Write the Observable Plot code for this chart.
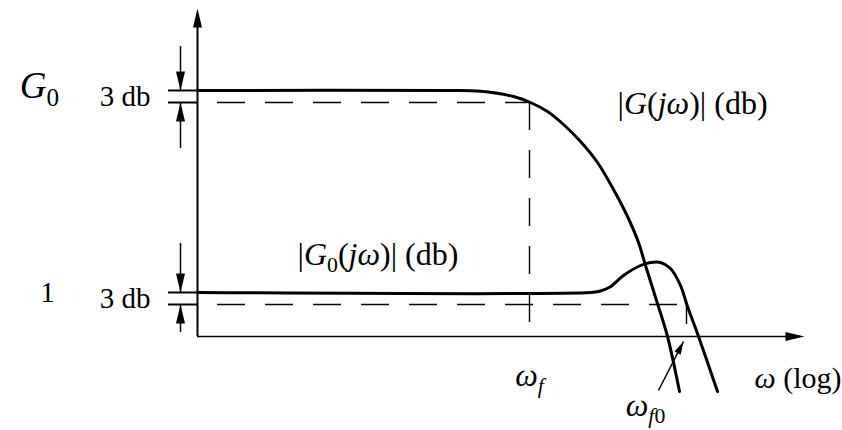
<!DOCTYPE html>
<html><head><meta charset="utf-8">
<script src="https://cdn.jsdelivr.net/npm/d3@7"></script>
<script src="https://cdn.jsdelivr.net/npm/@observablehq/plot@0.6"></script>
<style>
html,body{margin:0;padding:0;background:#fff;}
#chart svg{display:block;}
#chart svg text, #chart svg tspan{font-family:"Liberation Serif","Times New Roman",serif;}
</style></head><body><div id="chart"></div>
<script>
// ---- data (x = log frequency, decades from the ordinate; y = magnitude in db) ----
const gFreq  = [0, 2.5, 2.83, 3.16, 3.33, 3.50, 3.66, 3.83, 4.00, 4.16, 4.30, 4.41, 4.48, 4.59, 4.70, 4.82];
const gDb    = [61.5, 61.5, 61.3, 60.0, 58.5, 56.25, 53.0, 48.75, 43.5, 36.75, 30.0, 23.5, 17.75, 9.0, 0, -13.75];
const g0Freq = [0, 3.93, 4.02, 4.12, 4.26, 4.43, 4.53, 4.63, 4.73, 4.83, 4.90, 5.01, 5.20];
const g0Db   = [11, 11, 11.3, 12.3, 15.25, 17.75, 18.5, 18.5, 17, 12.75, 7.5, 0, -13.75];

const levelDb     = [61.5, 11];                 // G0 and 1 levels
const levelLabels = ["<i>G</i><sub>0</sub>", "1"];
const bandDb      = 3;
const bandLabel   = "3 db";
const cornerFreq   = [3.32, 4.89];              // omega_f, omega_f0
const cornerLabels = ["<i>ω</i><sub><i>f</i></sub>", "<i>ω</i><sub><i>f</i>0</sub>"];
const curveLabels  = ["|<i>G</i>(<i>jω</i>)| (db)", "|<i>G</i><sub>0</sub>(<i>jω</i>)| (db)"];
const axisLabel    = "<i>ω</i> (log)";

// ---- derived tables ----
const gData  = gFreq.map((f, i) => ({f, db: gDb[i]}));
const g0Data = g0Freq.map((f, i) => ({f, db: g0Db[i]}));
const bandEdges = levelDb.flatMap(db => [db, db - bandDb]);
const wf = cornerFreq[0], wf0 = cornerFreq[1];

const arrowX = -0.17;
const shafts = [
  {y1: levelDb[0] + 11, y2: levelDb[0]},
  {y1: levelDb[0] - bandDb - 11.5, y2: levelDb[0] - bandDb},
  {y1: levelDb[1] + 12.25, y2: levelDb[1]},
  {y1: 1, y2: levelDb[1] - bandDb}
];
const heads = [
  {x: arrowX, y: levelDb[0], rot: 180},
  {x: arrowX, y: levelDb[0] - bandDb, rot: 0},
  {x: arrowX, y: levelDb[1], rot: 180},
  {x: arrowX, y: levelDb[1] - bandDb, rot: 0},
  {x: 0, y: 82, rot: 0},
  {x: 6.07, y: 0, rot: 90}
];
const pointer = {x1: wf0 - 0.28, y1: -13.5, x2: wf0 - 0.03, y2: -1.25};

const headSym  = {draw(ctx) { ctx.moveTo(0, 0); ctx.lineTo(4.5, 19); ctx.lineTo(-4.5, 19); ctx.closePath(); }};
const smallSym = {draw(ctx) { ctx.moveTo(0, 0); ctx.lineTo(3.5, 13); ctx.lineTo(-3.5, 13); ctx.closePath(); }};

const dash = {strokeWidth: 1.4, strokeDasharray: "28,20"};
const serif = '"Liberation Serif", "Times New Roman", serif';
const txt = (data, opts) => Plot.text(data, {text: d => d, fontFamily: serif, ...opts});

const chart = Plot.plot({
  width: 842, height: 430, margin: 0,
  x: {domain: [-1.97, 6.45], axis: null},
  y: {domain: [-23.5, 84], axis: null},
  style: {fontFamily: serif, background: "white", color: "black"},
  marks: [
    // axes
    Plot.ruleX([0], {y1: 0, y2: 79, strokeWidth: 2}),
    Plot.ruleY([0], {x1: 0, x2: 6.0, strokeWidth: 1.5}),
    // level ticks left of ordinate
    Plot.ruleY(bandEdges, {x1: -0.29, x2: 0, strokeWidth: 2}),
    // dashed 3 db lines
    Plot.ruleY([levelDb[0] - bandDb], {x1: 0, x2: wf, ...dash, strokeDashoffset: 28}),
    Plot.ruleY([levelDb[1] - bandDb], {x1: 0, x2: wf0, ...dash, strokeDashoffset: 28}),
    Plot.ruleX([wf], {y1: levelDb[0] - bandDb, y2: 1.5, ...dash}),
    Plot.ruleX([wf0], {y1: levelDb[1] - bandDb, y2: 3, ...dash}),
    // curves
    Plot.line(gData, {x: "f", y: "db", curve: "catmull-rom", strokeWidth: 3}),
    Plot.line(g0Data, {x: "f", y: "db", curve: "catmull-rom", strokeWidth: 3}),
    // arrows
    Plot.ruleX(shafts, {x: arrowX, y1: "y1", y2: "y2", strokeWidth: 1.5}),
    Plot.link([pointer], {x1: "x1", y1: "y1", x2: "x2", y2: "y2", strokeWidth: 1.5}),
    Plot.dot(heads, {x: "x", y: "y", rotate: "rot", symbol: headSym, fill: "black", stroke: null}),
    Plot.dot([pointer], {x: "x2", y: "y2", rotate: 27, symbol: smallSym, fill: "black", stroke: null}),
    // labels
    txt([levelLabels[0]], {x: -1.58, y: levelDb[0], dy: -4, fontSize: 37, textAnchor: "middle"}),
    txt([levelLabels[1]], {x: -1.5, y: levelDb[1], fontSize: 29, textAnchor: "middle"}),
    Plot.text(levelDb, {x: -0.47, y: d => d - bandDb / 2, text: () => bandLabel, fontFamily: serif, fontSize: 29, textAnchor: "end"}),
    txt([curveLabels[0]], {x: 4.2, y: 58.25, fontSize: 32, textAnchor: "start"}),
    txt([curveLabels[1]], {x: 1.0, y: 20.5, fontSize: 32, textAnchor: "start"}),
    txt([cornerLabels[0]], {x: wf, y: -9.75, fontSize: 32, textAnchor: "middle"}),
    txt([cornerLabels[1]], {x: 4.48, y: -17.25, fontSize: 32, textAnchor: "middle"}),
    txt([axisLabel], {x: 5.57, y: -10.5, fontSize: 30, textAnchor: "start"})
  ]
});

document.getElementById("chart").append(chart);

// turn the small markup (<i>, <sub>) into styled tspans
d3.select(chart).selectAll("text").each(function () {
  const s = this.textContent;
  if (!/[<]/.test(s)) return;
  const fs = parseFloat(this.parentNode.getAttribute("font-size")) || parseFloat(getComputedStyle(this).fontSize) || 28;
  const el = d3.select(this);
  el.text(null);
  let italic = false, sub = false, shift = 0;
  for (const tok of s.split(/(<\/?(?:i|sub)>)/)) {
    if (!tok) continue;
    if (tok === "<i>") { italic = true; continue; }
    if (tok === "</i>") { italic = false; continue; }
    if (tok === "<sub>") { sub = true; continue; }
    if (tok === "</sub>") { sub = false; continue; }
    const target = sub ? fs * 0.22 : 0;
    const t = el.append("tspan").text(tok)
      .attr("font-style", italic ? "italic" : "normal")
      .attr("font-size", sub ? fs * 0.68 : fs);
    if (target !== shift) { t.attr("dy", target - shift); shift = target; }
  }
});
</script>
</body></html>
